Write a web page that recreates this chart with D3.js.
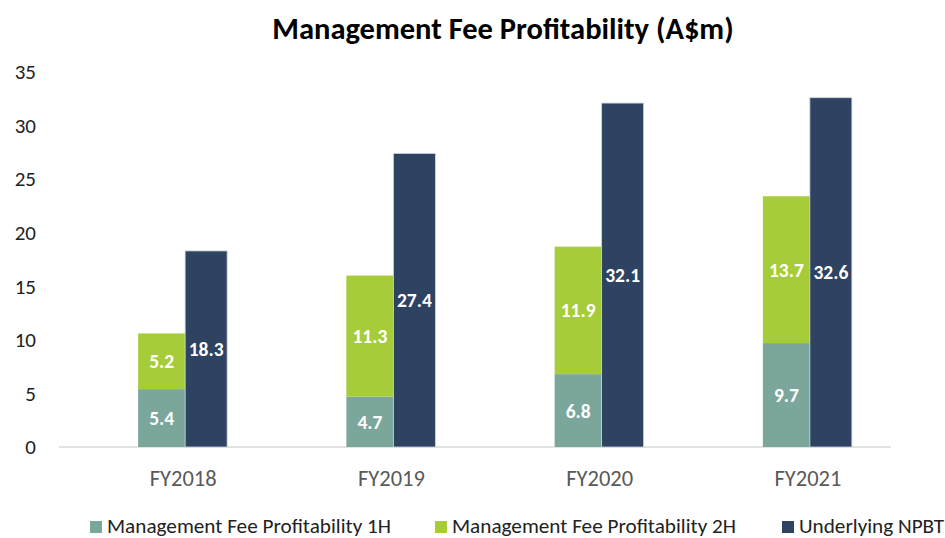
<!DOCTYPE html>
<html><head><meta charset="utf-8">
<script src="https://cdn.jsdelivr.net/npm/d3@7"></script>
<style>
html,body{margin:0;padding:0;background:#fff;}
svg{display:block;font-family:Carlito, Lato, "Open Sans", sans-serif;}
</style></head>
<body>
<svg id="chart" width="945" height="538"></svg>
<script>
const categories = ["FY2018", "FY2019", "FY2020", "FY2021"];
const fee1H = [5.4, 4.7, 6.8, 9.7];
const fee2H = [5.2, 11.3, 11.9, 13.7];
const npbt = [18.3, 27.4, 32.1, 32.6];
const yTicks = [0, 5, 10, 15, 20, 25, 30, 35];
const seriesNames = ["Management Fee Profitability 1H", "Management Fee Profitability 2H", "Underlying NPBT"];
const colors = ["#7BA69B", "#A6CD39", "#2E4262"];
const title = "Management Fee Profitability (A$m)";

const FONT = "Carlito, Lato, 'Open Sans', sans-serif";
const svg = d3.select("#chart");
const x = d3.scaleBand().domain(categories).range([79, 912]);
const y = d3.scaleLinear().domain([0, 35]).range([447, 72]);

svg.append("text").attr("x", 503).attr("y", 39).attr("text-anchor", "middle")
  .attr("font-size", 30.5).attr("font-weight", "bold").attr("fill", "#000").text(title);

// y axis labels
const yAxis = d3.axisLeft(y).tickValues(yTicks).tickSize(0).tickPadding(0);
const gy = svg.append("g").attr("transform", "translate(36,0)").call(yAxis)
  .attr("font-family", FONT).attr("font-size", 21);
gy.select(".domain").remove();
gy.selectAll("text").attr("fill", "#222");

// baseline
svg.append("line").attr("x1", 59).attr("x2", 891).attr("y1", y(0)).attr("y2", y(0))
  .attr("stroke", "#D9D9D9").attr("stroke-width", 1.5);

// x axis labels
const xAxis = d3.axisBottom(x).tickSize(0).tickPadding(0);
const gx = svg.append("g").attr("transform", "translate(0,470)").call(xAxis)
  .attr("font-family", FONT).attr("font-size", 22.5);
gx.select(".domain").remove();
gx.selectAll("text").attr("fill", "#595959").attr("dy", "0.71em");

const data = categories.map((c, i) => ({c, a: fee1H[i], b: fee2H[i], n: npbt[i]}));
const cx = c => x(c) + x.bandwidth() / 2;

// stacked bars
const stack = d3.stack().keys(["a", "b"])(data);
stack.forEach((layer, li) => {
  svg.append("g").selectAll("rect").data(layer).join("rect")
    .attr("x", d => cx(d.data.c) - 45).attr("width", 47)
    .attr("y", d => y(d[1])).attr("height", d => y(d[0]) - y(d[1]))
    .attr("fill", colors[li]);
  svg.append("g").selectAll("text").data(layer).join("text")
    .attr("x", d => cx(d.data.c) - 21.5).attr("y", d => (y(d[0]) + y(d[1])) / 2)
    .attr("dy", "0.36em").attr("text-anchor", "middle").attr("fill", "#fff")
    .attr("font-weight", "bold").attr("font-size", 19.5)
    .text(d => d3.format(".1f")(d[1] - d[0]));
});

// NPBT bars
svg.append("g").selectAll("rect").data(data).join("rect")
  .attr("x", d => cx(d.c) + 2).attr("width", 42)
  .attr("y", d => y(d.n)).attr("height", d => y(0) - y(d.n))
  .attr("fill", colors[2]).attr("stroke", "#D0D6DE").attr("stroke-width", 0.8);
svg.append("g").selectAll("text").data(data).join("text")
  .attr("x", d => cx(d.c) + 23).attr("y", d => (y(0) + y(d.n)) / 2)
  .attr("dy", "0.36em").attr("text-anchor", "middle").attr("fill", "#fff")
  .attr("font-weight", "bold").attr("font-size", 19.5)
  .text(d => d3.format(".1f")(d.n));

// legend
const legendX = [90, 435, 782];
const lg = svg.append("g");
seriesNames.forEach((s, i) => {
  lg.append("rect").attr("x", legendX[i]).attr("y", 521).attr("width", 12).attr("height", 12).attr("fill", colors[i]);
  lg.append("text").attr("x", legendX[i] + 17).attr("y", 533).attr("font-size", 21.2).attr("fill", "#222").text(s);
});
</script>
</body></html>
